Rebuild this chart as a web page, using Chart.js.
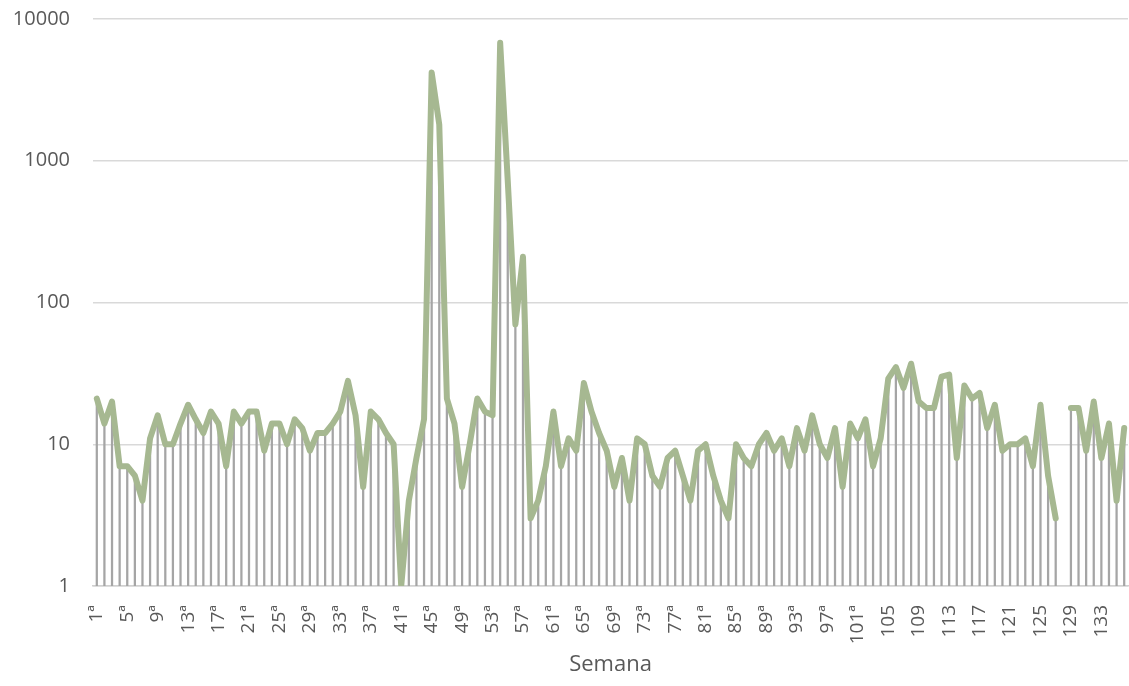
<!DOCTYPE html>
<html>
<head>
<meta charset="utf-8">
<title>Semana</title>
<script src="https://cdn.jsdelivr.net/npm/chart.js@4"></script>
<style>
  html, body { margin: 0; padding: 0; background: #ffffff; }
  #wrap { width: 1129px; height: 686px; position: relative; }
  #chart { display: block; }
</style>
</head>
<body>
<div id="wrap"><canvas id="chart" width="1129" height="686"></canvas></div>
<script>
// Week labels: ordinal suffix up to week 104, plain numbers after that
const WEEK_LABELS = Array.from({ length: 136 }, (_, i) => (i < 104 ? (i + 1) + 'ª' : String(i + 1)));

// Weekly counts (week 128 has no value)
const WEEKLY_COUNTS = [
  21, 14, 20, 7, 7, 6, 4, 11, 16, 10,
  10, 14, 19, 15, 12, 17, 14, 7, 17, 14,
  17, 17, 9, 14, 14, 10, 15, 13, 9, 12,
  12, 14, 17, 28, 16, 5, 17, 15, 12, 10,
  1, 4, 8, 15, 4200, 1800, 21, 14, 5, 10,
  21, 17, 16, 6800, 720, 70, 210, 3, 4, 7,
  17, 7, 11, 9, 27, 17, 12, 9, 5, 8,
  4, 11, 10, 6, 5, 8, 9, 6, 4, 9,
  10, 6, 4, 3, 10, 8, 7, 10, 12, 9,
  11, 7, 13, 9, 16, 10, 8, 13, 5, 14,
  11, 15, 7, 11, 29, 35, 25, 37, 20, 18,
  18, 30, 31, 8, 26, 21, 23, 13, 19, 9,
  10, 10, 11, 7, 19, 6, 3, null, 18, 18,
  9, 20, 8, 14, 4, 13
];

// Y axis ticks (logarithmic)
const Y_TICKS = [1, 10, 100, 1000, 10000];

const FONT = "'Open Sans', 'Noto Sans', sans-serif";
const TEXT_COLOR = '#595959';

new Chart(document.getElementById('chart'), {
  type: 'bar',
  data: {
    labels: WEEK_LABELS,
    datasets: [
      {
        type: 'line',
        label: 'Semana',
        data: WEEKLY_COUNTS,
        borderColor: '#A6B891',
        borderWidth: 6,
        borderJoinStyle: 'round',
        borderCapStyle: 'round',
        pointRadius: 0,
        pointHoverRadius: 0,
        tension: 0,
        spanGaps: false,
        fill: false,
        order: 0
      },
      {
        // drop lines from each point down to the axis
        type: 'bar',
        label: 'drop',
        data: WEEKLY_COUNTS,
        backgroundColor: '#A5A5A5',
        barThickness: 1.6,
        borderWidth: 0,
        order: 1
      }
    ]
  },
  options: {
    responsive: false,
    animation: false,
    devicePixelRatio: 1,
    layout: { padding: { top: 19, right: 1, left: 0, bottom: 0 } },
    plugins: {
      legend: { display: false },
      tooltip: { enabled: false }
    },
    scales: {
      x: {
        offset: true,
        grid: { display: false, drawTicks: false },
        border: { display: true, color: '#D0D0D0', width: 1.5 },
        ticks: {
          autoSkip: false,
          maxRotation: 90,
          minRotation: 90,
          padding: 19,
          color: TEXT_COLOR,
          font: { family: FONT, size: 19 },
          callback: function (value, index) {
            return index % 4 === 0 ? WEEK_LABELS[index] : '';
          }
        },
        title: {
          display: true,
          text: 'Semana',
          color: TEXT_COLOR,
          font: { family: FONT, size: 22 },
          padding: { top: 10, bottom: 8 }
        },
        afterFit: function (scale) {
          scale.height = 100;
          scale.paddingLeft = 0;
          scale.paddingRight = 0;
        }
      },
      y: {
        type: 'logarithmic',
        min: 1,
        max: 10000,
        grid: { color: '#D9D9D9', lineWidth: 1.5, drawTicks: false },
        border: { display: false },
        ticks: {
          padding: 23,
          color: TEXT_COLOR,
          font: { family: FONT, size: 20 },
          callback: function (value) { return String(value); }
        },
        afterBuildTicks: function (scale) {
          scale.ticks = Y_TICKS.map(function (v) { return { value: v }; });
        },
        afterFit: function (scale) {
          scale.width = 93;
          scale.paddingTop = 0;
          scale.paddingBottom = 0;
        }
      }
    }
  }
});
</script>
</body>
</html>
